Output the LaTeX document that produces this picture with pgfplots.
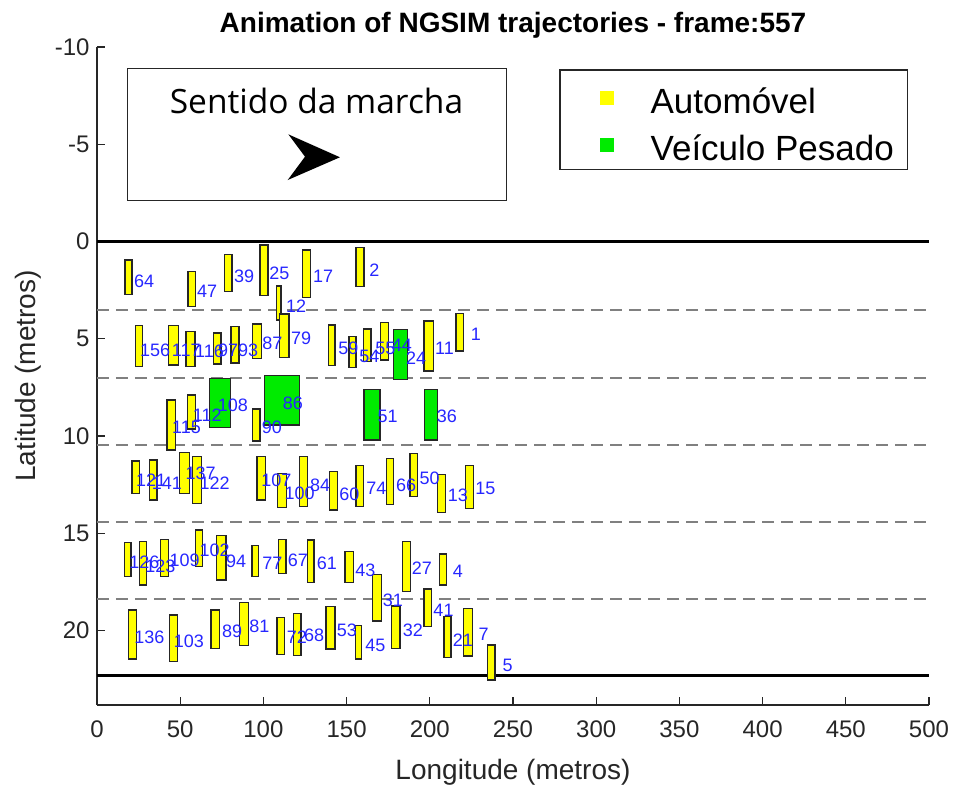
\documentclass[border=0pt]{standalone}
\usepackage{fontspec}
\setmainfont{Liberation Sans}
\newfontfamily\annfont{Open Sans}
\usepackage{pgfplots}
\pgfplotsset{compat=1.18}
\definecolor{caryellow}{rgb}{1,1,0}
\definecolor{truckgreen}{rgb}{0,0.92,0}
\definecolor{labblue}{rgb}{0.15,0.15,1}
\definecolor{axgray}{rgb}{0.15,0.15,0.15}
\definecolor{lanegray}{rgb}{0.5,0.5,0.5}
\newcommand{\fs}[1]{\fontsize{#1}{#1}\selectfont}
\newcommand{\car}[4]{\addplot[forget plot, fill=caryellow, draw=black!85, line width=1.3pt, line cap=rect] coordinates {(#1,#3) (#2,#3) (#2,#4) (#1,#4) (#1,#3)};}
\newcommand{\truck}[4]{\addplot[forget plot, fill=truckgreen, draw=black!85, line width=1.3pt, line cap=rect] coordinates {(#1,#3) (#2,#3) (#2,#4) (#1,#4) (#1,#3)};}
\begin{document}
\begin{tikzpicture}
\path[use as bounding box] (-97pt,-81pt) rectangle (857pt,705pt);
\begin{axis}[
  at={(0,0)}, anchor=south west,
  scale only axis, width=832pt, height=658pt,
  xmin=0, xmax=500, ymin=-10, ymax=23.83, y dir=reverse,
  axis x line*=bottom, axis y line*=left,
  axis line style={line width=1.2pt, color=axgray},
  tick align=inside, major tick length=8pt,
  tick style={line width=1.2pt, color=axgray},
  xtick={0,50,...,500}, xticklabels={0,50,100,150,200,250,300,350,400,450,500},
  ytick={-10,-5,0,5,10,15,20}, yticklabels={-10,-5,0,5,10,15,20},
  ticklabel style={font=\fs{24}, text=axgray},
  yticklabel style={anchor=east, xshift=-4pt},
  xticklabel style={yshift=-12pt},
  every axis x label/.style={at={(axis description cs:0.5,-0.1018)}, anchor=center, font=\fs{28}, text=axgray},
  every axis y label/.style={at={(axis description cs:-0.083,0.5)}, anchor=center, rotate=90, font=\fs{28}, text=axgray},
  every axis title/.style={at={(axis description cs:0.5,1.0334)}, anchor=center, font=\bfseries\fs{28}},
  xlabel={Longitude (metros)}, ylabel={Latitude (metros)},
  title={Animation of NGSIM trajectories - frame:557},
  legend cell align=left,
  legend style={at={(0.6046,0.936)}, anchor=north west, draw=none, fill=none,
    inner sep=0pt, font=\fs{35}, row sep=16pt,
    nodes={inner sep=0pt, text height=24pt, text depth=7pt},
    /tikz/every odd column/.append style={column sep=37pt}},
]
% lane lines
\addplot[forget plot, line width=3.5pt, black] coordinates {(0,0) (500,0)};
\addplot[forget plot, line width=3.5pt, black] coordinates {(0,22.32) (500,22.32)};
\addplot[forget plot, line width=2pt, lanegray, dash pattern=on 12pt off 7pt] coordinates {(0,3.51) (500,3.51)};
\addplot[forget plot, line width=2pt, lanegray, dash pattern=on 12pt off 7pt] coordinates {(0,7.00) (500,7.00)};
\addplot[forget plot, line width=2pt, lanegray, dash pattern=on 12pt off 7pt] coordinates {(0,10.46) (500,10.46)};
\addplot[forget plot, line width=2pt, lanegray, dash pattern=on 12pt off 7pt] coordinates {(0,14.44) (500,14.44)};
\addplot[forget plot, line width=2pt, lanegray, dash pattern=on 12pt off 7pt] coordinates {(0,18.40) (500,18.40)};
% cars (x1,x2,y1,y2)
\car{16.8}{21.0}{0.95}{2.71}
\car{54.7}{59.3}{1.55}{3.35}
\car{76.5}{81.1}{0.66}{2.58}
\car{98.0}{102.8}{0.18}{2.79}
\car{107.8}{110.6}{2.29}{4.04}
\car{123.6}{128.4}{0.44}{2.87}
\car{155.7}{160.5}{0.32}{2.32}
\car{23.0}{27.5}{4.33}{6.44}
\car{42.9}{48.9}{4.33}{6.35}
\car{53.5}{58.9}{4.62}{6.42}
\car{69.9}{74.5}{4.70}{6.30}
\car{80.5}{85.3}{4.36}{6.25}
\car{93.6}{99.0}{4.24}{6.03}
\car{109.6}{115.4}{3.73}{5.95}
\car{139.0}{143.0}{4.29}{6.39}
\car{151.5}{155.7}{4.89}{6.49}
\car{160.0}{164.7}{4.50}{6.18}
\car{170.5}{175.1}{4.17}{6.09}
\car{196.5}{202.1}{4.09}{6.66}
\car{215.8}{220.1}{3.69}{5.63}
\car{42.1}{47.1}{8.15}{10.72}
\car{54.5}{59.1}{7.89}{9.64}
\car{93.6}{98.0}{8.61}{10.26}
\car{21.0}{25.4}{11.28}{12.95}
\car{31.4}{36.1}{11.23}{13.29}
\car{49.5}{55.5}{10.84}{12.95}
\car{57.5}{62.7}{11.06}{13.46}
\car{96.2}{101.1}{11.06}{13.29}
\car{108.6}{114.0}{11.92}{13.69}
\car{121.7}{126.4}{11.06}{13.63}
\car{139.6}{144.4}{11.83}{13.80}
\car{155.7}{160.0}{11.53}{13.63}
\car{174.1}{178.1}{11.15}{13.51}
\car{188.1}{192.7}{10.89}{13.12}
\car{204.8}{209.6}{11.97}{13.92}
\car{221.6}{226.2}{11.53}{13.72}
\car{16.4}{20.4}{15.46}{17.23}
\car{25.4}{29.9}{15.43}{17.66}
\car{38.0}{43.1}{15.31}{17.23}
\car{59.1}{63.5}{14.83}{16.72}
\car{71.9}{77.5}{15.12}{17.40}
\car{93.2}{97.2}{15.64}{17.23}
\car{109.2}{113.6}{15.31}{17.06}
\car{126.4}{130.4}{15.35}{17.52}
\car{149.0}{154.0}{15.95}{17.52}
\car{165.5}{171.1}{17.11}{19.51}
\car{183.7}{188.5}{15.43}{18.00}
\car{205.7}{210.2}{16.07}{17.66}
\car{19.1}{23.9}{18.94}{21.46}
\car{43.5}{48.5}{19.20}{21.60}
\car{68.5}{73.5}{18.94}{20.91}
\car{85.5}{90.9}{18.55}{20.78}
\car{108.2}{112.6}{19.34}{21.22}
\car{118.0}{122.6}{19.11}{21.29}
\car{137.6}{143.0}{18.78}{20.95}
\car{155.5}{159.1}{19.75}{21.46}
\car{177.1}{182.1}{18.74}{20.91}
\car{196.5}{201.2}{17.87}{19.80}
\car{208.5}{212.8}{19.29}{21.38}
\car{220.1}{225.8}{18.86}{21.31}
\car{234.8}{239.2}{20.74}{22.54}
% heavy vehicles
\truck{178.1}{186.5}{4.51}{7.08}
\truck{67.5}{80.4}{7.03}{9.57}
\truck{100.8}{121.6}{6.88}{9.43}
\truck{160.5}{170.1}{7.60}{10.20}
\truck{196.7}{204.5}{7.60}{10.20}
% vehicle ids
\addplot[forget plot, only marks, mark=o, mark size=0pt, mark options={draw opacity=0},
  point meta=explicit symbolic, nodes near coords,
  nodes near coords style={anchor=west, inner sep=0pt, font=\fs{18}, text=labblue, text opacity=1, opacity=1}]
  table[meta=lab, row sep=\\] {
x y lab \\
22.2 2.03 64 \\
60.1 2.54 47 \\
82.3 1.77 39 \\
103.4 1.62 25 \\
113.6 3.32 12 \\
129.8 1.77 17 \\
163.6 1.47 2 \\
25.8 5.58 156 \\
44.9 5.61 117 \\
58.9 5.63 116 \\
72.7 5.58 97 \\
84.7 5.58 93 \\
99.2 5.22 87 \\
116.6 4.96 79 \\
145.0 5.49 59 \\
157.6 5.92 54 \\
167.1 5.49 55 \\
177.1 5.32 44 \\
185.7 6.00 24 \\
203.1 5.49 11 \\
224.6 4.76 1 \\
45.1 9.57 115 \\
57.5 8.92 112 \\
72.5 8.44 108 \\
99.0 9.57 90 \\
111.6 8.32 86 \\
168.5 9.01 51 \\
204.2 9.01 36 \\
23.4 12.26 121 \\
32.9 12.42 141 \\
53.1 11.92 137 \\
61.5 12.43 122 \\
98.6 12.26 107 \\
112.6 12.95 100 \\
128.0 12.52 84 \\
145.6 13.00 60 \\
161.7 12.69 74 \\
179.7 12.52 66 \\
193.7 12.17 50 \\
210.8 13.03 13 \\
227.2 12.69 15 \\
19.4 16.49 126 \\
29.0 16.72 123 \\
43.5 16.37 109 \\
61.5 15.86 102 \\
77.5 16.46 94 \\
99.2 16.54 77 \\
114.6 16.37 67 \\
132.0 16.54 61 \\
155.1 16.89 43 \\
171.7 18.43 31 \\
189.1 16.80 27 \\
213.8 16.98 4 \\
22.4 20.37 136 \\
46.1 20.54 103 \\
75.1 20.06 89 \\
91.5 19.80 81 \\
114.0 20.37 72 \\
124.4 20.23 68 \\
144.1 19.97 53 \\
161.1 20.74 45 \\
183.7 19.97 32 \\
202.1 18.94 41 \\
213.8 20.49 21 \\
229.2 20.19 7 \\
243.6 21.77 5 \\
};
% legend
\addlegendimage{legend image code/.code={\fill[caryellow] (0pt,0.7pt) rectangle (13pt,13.7pt);}}
\addlegendentry{Automóvel}
\addlegendimage{legend image code/.code={\fill[truckgreen] (0pt,0.7pt) rectangle (13pt,13.7pt);}}
\addlegendentry{Veículo Pesado}
\draw[axgray, line width=1.2pt] (axis cs:278.2,-8.82) rectangle (axis cs:487.3,-3.71);
% annotation
\draw[black!85, line width=1.2pt] (axis cs:18.4,-8.90) rectangle (axis cs:246.2,-2.10);
\node[font=\annfont\fs{33.5}, anchor=base, inner sep=0pt] at (axis cs:131.9,-6.56) {Sentido da marcha};
\fill[black] (axis cs:115.0,-5.51) -- (axis cs:146.0,-4.33) -- (axis cs:114.6,-3.16) -- (axis cs:125.0,-4.36) -- cycle;
\end{axis}
\end{tikzpicture}
\end{document}
